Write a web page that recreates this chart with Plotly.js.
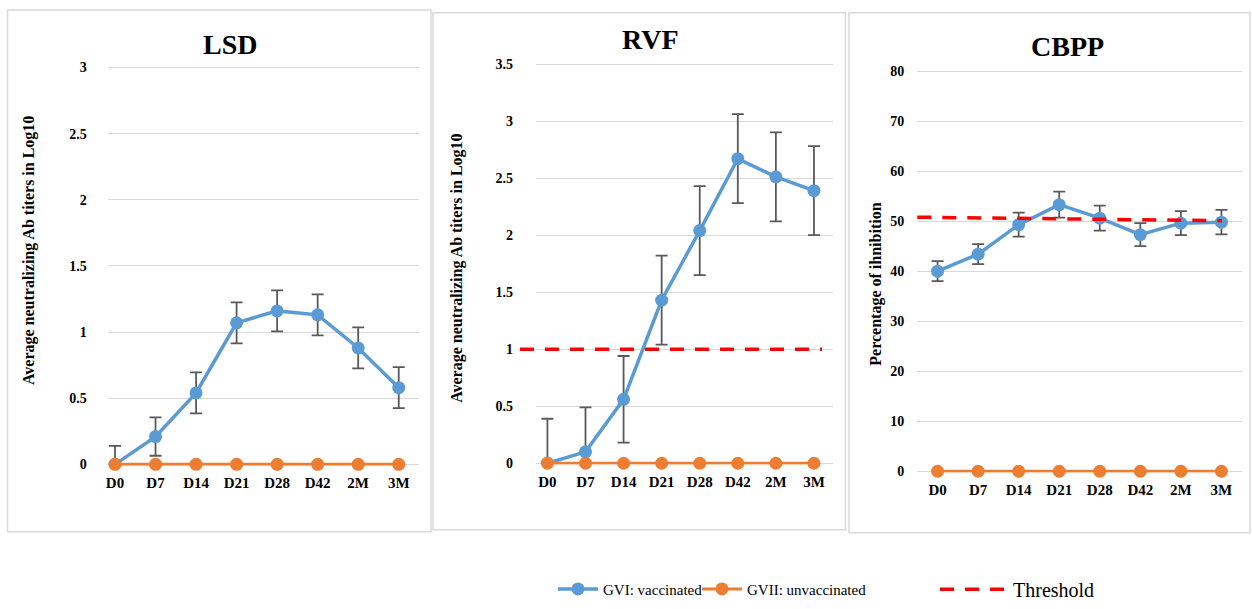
<!DOCTYPE html>
<html>
<head>
<meta charset="utf-8">
<script src="https://cdn.plot.ly/plotly-3.0.1.min.js"></script>
<style>
  html, body { margin: 0; padding: 0; background: #ffffff; }
  #chart { width: 1252px; height: 609px; }
</style>
</head>
<body>
<div id="chart"></div>
<script>
// ---------------- DATA ----------------
const categories = ['D0', 'D7', 'D14', 'D21', 'D28', 'D42', '2M', '3M'];

const lsdVaccinated      = [0, 0.21, 0.54, 1.07, 1.16, 1.13, 0.88, 0.58];
const lsdVaccinatedErr   = [0.14, 0.145, 0.155, 0.155, 0.155, 0.155, 0.155, 0.155];
const lsdUnvaccinated    = [0, 0, 0, 0, 0, 0, 0, 0];

const rvfVaccinated      = [0, 0.10, 0.56, 1.43, 2.04, 2.67, 2.51, 2.39];
const rvfVaccinatedErr   = [0.39, 0.39, 0.38, 0.39, 0.39, 0.39, 0.39, 0.39];
const rvfUnvaccinated    = [0, 0, 0, 0, 0, 0, 0, 0];
const rvfThreshold       = [1, 1];

const cbppVaccinated     = [40.0, 43.4, 49.3, 53.3, 50.6, 47.3, 49.6, 49.8];
const cbppVaccinatedErr  = [2.0, 2.0, 2.4, 2.6, 2.5, 2.3, 2.4, 2.45];
const cbppUnvaccinated   = [0, 0, 0, 0, 0, 0, 0, 0];
const cbppThreshold      = [50.8, 50.1];

const panelTitles = ['LSD', 'RVF', 'CBPP'];
const yTitles = ['Average neutralizing Ab titers in Log10',
                 'Average neutralizing Ab titers in Log10',
                 'Percentage of ihnibition'];
const seriesNames = ['GVI: vaccinated', 'GVII: unvaccinated', 'Threshold'];

// ---------------- STYLE ----------------
const W = 1252, H = 609;
const BLUE = '#5B9BD5', ORANGE = '#ED7D31', RED = '#FF0000';
const GRID = '#D9D9D9', ERR = '#595959';
const SERIF = 'Liberation Serif';
const px = x => x / W;
const py = y => 1 - y / H;

function vaccinatedTrace(y, err, xa, ya, legendOn) {
  return {
    type: 'scatter', mode: 'lines+markers',
    x: categories, y: y, xaxis: xa, yaxis: ya,
    name: seriesNames[0],
    showlegend: legendOn, legend: 'legend',
    line: { color: BLUE, width: 3.5 },
    marker: { color: BLUE, size: 13 },
    error_y: { type: 'data', array: err, visible: true, color: ERR, thickness: 1.8, width: 6 },
    hoverinfo: 'x+y'
  };
}
function unvaccinatedTrace(y, xa, ya, legendOn) {
  return {
    type: 'scatter', mode: 'lines+markers',
    x: categories, y: y, xaxis: xa, yaxis: ya,
    name: seriesNames[1],
    showlegend: legendOn, legend: 'legend2',
    cliponaxis: false,
    line: { color: ORANGE, width: 3 },
    marker: { color: ORANGE, size: 13 },
    hoverinfo: 'x+y'
  };
}

const data = [
  vaccinatedTrace(lsdVaccinated, lsdVaccinatedErr, 'x', 'y', true),
  unvaccinatedTrace(lsdUnvaccinated, 'x', 'y', true),
  vaccinatedTrace(rvfVaccinated, rvfVaccinatedErr, 'x2', 'y2', false),
  unvaccinatedTrace(rvfUnvaccinated, 'x2', 'y2', false),
  vaccinatedTrace(cbppVaccinated, cbppVaccinatedErr, 'x3', 'y3', false),
  unvaccinatedTrace(cbppUnvaccinated, 'x3', 'y3', false)
];

const xTickFont = { family: SERIF, size: 15, color: '#000', weight: 'bold' };
const yTickFont = { family: SERIF, size: 14, color: '#000', weight: 'bold' };

function xAxis(domain, range, anchor) {
  return {
    domain: domain, range: range, type: 'category', anchor: anchor,
    showgrid: false, zeroline: false, showline: false, ticks: '',
    tickfont: xTickFont, ticklabelstandoff: 6, fixedrange: true
  };
}
function yAxis(domain, range, dtick, standoff, anchor) {
  return {
    domain: domain, range: range, dtick: dtick, tick0: 0,
    showgrid: true, gridcolor: GRID, gridwidth: 1,
    zeroline: false, showline: false, ticks: '',
    tickfont: yTickFont, ticklabelstandoff: standoff,
    anchor: anchor, fixedrange: true
  };
}

const borders = [
  [7.5, 10, 431, 538],
  [433, 13, 845.5, 536],
  [849, 13, 1250, 539]
];

const shapes = borders.map(b => ({
  type: 'rect', xref: 'paper', yref: 'paper', layer: 'below',
  x0: px(b[0]), x1: px(b[2]), y0: py(b[3]), y1: py(b[1]),
  line: { color: GRID, width: 1.5 }, fillcolor: 'rgba(0,0,0,0)'
}));

shapes.push({
  type: 'line', xref: 'x2 domain', yref: 'y2',
  x0: -0.054, x1: 0.963, y0: rvfThreshold[0], y1: rvfThreshold[1],
  line: { color: RED, width: 3.5, dash: '14px,11px' },
  name: seriesNames[2], showlegend: true, legend: 'legend3'
});
shapes.push({
  type: 'line', xref: 'x3 domain', yref: 'y3',
  x0: 0, x1: 0.939, y0: cbppThreshold[0], y1: cbppThreshold[1],
  line: { color: RED, width: 3.5, dash: '14px,11px' },
  showlegend: false
});

const titleFont = { family: SERIF, size: 28, color: '#000', weight: 'bold' };
const yTitleFont = { family: SERIF, size: 16, color: '#000', weight: 'bold' };

const annotations = [
  { text: panelTitles[0], x: px(230), y: py(45) },
  { text: panelTitles[1], x: px(650), y: py(40) },
  { text: panelTitles[2], x: px(1067), y: py(47) }
].map(a => Object.assign(a, {
  xref: 'paper', yref: 'paper', showarrow: false,
  xanchor: 'center', yanchor: 'middle', font: titleFont
}));

[
  { text: yTitles[0], x: px(29), y: py(254) },
  { text: yTitles[1], x: px(457), y: py(272) },
  { text: yTitles[2], x: px(876), y: py(288) }
].forEach(a => annotations.push(Object.assign(a, {
  xref: 'paper', yref: 'paper', showarrow: false, textangle: -90,
  xanchor: 'center', yanchor: 'middle', font: yTitleFont
})));

function legendAt(x, size, itemwidth) {
  return {
    x: x, y: py(596), xanchor: 'left', yanchor: 'middle',
    orientation: 'h', bgcolor: 'rgba(0,0,0,0)', borderwidth: 0,
    font: { family: SERIF, size: size, color: '#000' },
    itemwidth: itemwidth, itemclick: false, itemdoubleclick: false
  };
}

const layout = {
  width: W, height: H,
  margin: { l: 0, r: 0, t: 0, b: 0 },
  paper_bgcolor: '#ffffff', plot_bgcolor: '#ffffff',
  font: { family: SERIF, color: '#000' },
  xaxis:  xAxis([px(107.7), px(419)], [-0.18, 7.5], 'y'),
  yaxis:  yAxis([py(471.1), py(66.9)], [-0.01, 3.01], 0.5, 20, 'x'),
  xaxis2: xAxis([px(536), px(833)], [-0.3, 7.5], 'y2'),
  yaxis2: yAxis([py(470), py(63.4)], [-0.012, 3.512], 0.5, 22, 'x2'),
  xaxis3: xAxis([px(917.3), px(1241.7)], [-0.5, 7.5], 'y3'),
  yaxis3: yAxis([py(478), py(70.7)], [-0.25, 80.25], 10, 12, 'x3'),
  shapes: shapes,
  annotations: annotations,
  showlegend: true,
  legend: legendAt(px(553), 15, 40),
  legend2: legendAt(px(697), 15, 40),
  legend3: legendAt(px(935), 20, 68)
};

Plotly.newPlot('chart', data, layout, { displayModeBar: false, responsive: false });
</script>
</body>
</html>
